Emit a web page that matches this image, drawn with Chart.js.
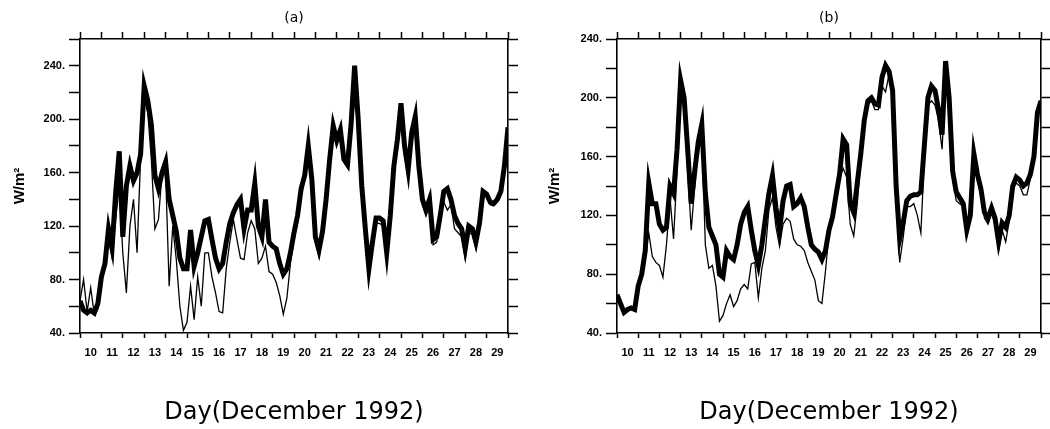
<!DOCTYPE html>
<html>
<head>
<meta charset="utf-8">
<title>Day(December 1992)</title>
<script src="https://cdn.jsdelivr.net/npm/chart.js@4/dist/chart.umd.min.js"></script>
<style>
  html, body { margin: 0; padding: 0; background: #fff; }
  #wrap { position: relative; width: 1050px; height: 429px; }
  canvas { position: absolute; top: 0; }
  #panelA { left: 0; }
  #panelB { left: 525px; }
</style>
</head>
<body>
<div id="wrap">
  <canvas id="panelA" width="525" height="429"></canvas>
  <canvas id="panelB" width="525" height="429"></canvas>
</div>
<script>
// Flux time series, W/m2, 6 samples per day starting 10 Dec 00h
const firstDay = 10;
const samplesPerDay = 6;
const dayLabels = ['10', '11', '12', '13', '14', '15', '16', '17', '18', '19',
                   '20', '21', '22', '23', '24', '25', '26', '27', '28', '29'];
const fluxTicks = [40, 80, 120, 160, 200, 240];

// panel (a)
const fluxA_bold = [
  64, 57, 55, 57, 55, 62,
  82, 92, 118, 104, 145, 176,
  112, 150, 165, 154, 160, 174,
  225, 214, 196, 158, 148, 160,
  168, 140, 128, 116, 96, 88,
  88, 117, 90, 100, 112, 124,
  125, 110, 96, 88, 92, 108,
  122, 130, 136, 140, 118, 132,
  132, 152, 120, 112, 140, 108,
  105, 103, 92, 84, 88, 100,
  115, 128, 148, 158, 180, 155,
  112, 102, 116, 140, 170, 195,
  184, 192, 170, 166, 196, 240,
  200, 150, 118, 88, 108, 126,
  126, 124, 100, 128, 165, 185,
  212, 180, 162, 190, 202, 165,
  140, 132, 140, 110, 112, 128,
  146, 148, 140, 128, 122, 118,
  103, 120, 118, 108, 122, 146,
  144, 138, 137, 140, 146, 165,
  194
];
const fluxA_fine = [
  64, 80, 56, 74, 54, 58,
  82, 88, 110, 96, 125, 150,
  100, 70, 120, 140, 100, 172,
  215, 205, 170, 118, 125, 160,
  160, 75, 120, 95, 60, 42,
  48, 75, 50, 82, 60, 100,
  100, 82, 70, 56, 55, 88,
  108, 125, 110, 96, 95, 115,
  124, 118, 92, 96, 105, 86,
  84, 78, 68, 54, 66, 92,
  110, 122, 142, 155, 172, 150,
  108, 97, 112, 138, 165, 188,
  182, 188, 168, 164, 190, 215,
  196, 146, 112, 83, 102, 122,
  122, 120, 97, 124, 160, 180,
  200, 172, 160, 182, 195, 160,
  136, 128, 136, 106, 108, 124,
  138, 132, 136, 118, 115, 112,
  96, 115, 114, 103, 118, 142,
  142, 136, 135, 138, 143, 160,
  192
];

// panel (b)
const fluxB_bold = [
  66, 60, 54, 56, 57, 56,
  72, 80, 96, 142, 128, 128,
  114, 110, 112, 140, 135, 165,
  212, 200, 165, 128, 150, 170,
  182, 135, 112, 106, 100, 80,
  78, 96, 92, 90, 100, 114,
  122, 126, 110, 96, 86, 100,
  118, 135, 147, 125, 110, 130,
  140, 141, 126, 128, 132, 126,
  112, 100, 97, 95, 90, 96,
  110, 119, 134, 148, 172, 168,
  128, 122, 142, 162, 185, 198,
  200, 196, 195, 214, 222, 218,
  205, 140, 104, 115, 130, 133,
  134, 134, 136, 168, 200, 208,
  205, 192, 175, 225, 200, 150,
  136, 132, 128, 110, 120, 162,
  148, 138, 122, 118, 125, 118,
  102, 115, 112, 120, 140, 146,
  144, 140, 142, 148, 160, 190,
  198
];
const fluxB_fine = [
  65, 59, 54, 56, 56, 55,
  72, 80, 92, 108, 92, 88,
  86, 78, 100, 132, 104, 150,
  206, 192, 150, 110, 140, 166,
  176, 100, 84, 86, 72, 48,
  52, 60, 66, 58, 62, 70,
  73, 70, 87, 88, 64, 84,
  96, 124, 132, 112, 99, 114,
  118, 116, 104, 100, 99, 96,
  88, 82, 76, 62, 60, 82,
  108, 116, 130, 145, 152, 146,
  114, 106, 128, 158, 180, 195,
  198, 192, 192, 208, 204, 216,
  200, 132, 88, 105, 126, 126,
  128, 120, 108, 160, 195, 198,
  195, 185, 165, 212, 195, 145,
  130, 128, 126, 106, 116, 158,
  144, 134, 118, 114, 122, 114,
  96, 110, 102, 116, 138, 142,
  140, 134, 134, 145, 158, 186,
  196
];

const lastDay = firstDay + dayLabels.length;
const tickFont = { family: 'Liberation Sans', size: 11, weight: 'bold' };
const frame = { display: true, color: '#000', width: 1.6 };

function toPoints(values) {
  return values.map((v, i) => ({ x: firstDay + i / samplesPerDay, y: v }));
}

// day boundaries get tick marks, day centres get the labels
function dayTicks(axis) {
  const ticks = [];
  for (let i = 0; i <= dayLabels.length; i++) {
    ticks.push({ value: firstDay + i });
    if (i < dayLabels.length) ticks.push({ value: firstDay + i + 0.5 });
  }
  axis.ticks = ticks;
}

function makePanel(id, letter, bold, fine, yMax, box) {
  new Chart(document.getElementById(id), {
    type: 'line',
    data: {
      datasets: [
        { data: toPoints(bold), borderColor: '#000', borderWidth: 5, pointRadius: 0, tension: 0 },
        { data: toPoints(fine), borderColor: '#000', borderWidth: 1.3, pointRadius: 0, tension: 0 }
      ]
    },
    options: {
      responsive: false,
      animation: false,
      devicePixelRatio: 1,
      layout: { padding: 0 },
      plugins: { legend: { display: false }, tooltip: { enabled: false } },
      scales: {
        x: {
          type: 'linear', position: 'bottom', min: firstDay, max: lastDay,
          afterBuildTicks: dayTicks,
          ticks: {
            autoSkip: false, maxRotation: 0, padding: 8, color: '#000', font: tickFont,
            callback: v => Number.isInteger(v) ? '' : dayLabels[Math.floor(v) - firstDay]
          },
          grid: {
            drawOnChartArea: false, tickLength: 5, tickWidth: 1.5,
            tickColor: ctx => Number.isInteger(ctx.tick.value) ? '#000' : 'rgba(0,0,0,0)'
          },
          border: frame,
          title: {
            display: true, text: 'Day(December 1992)', color: '#000',
            font: { family: 'DejaVu Sans', size: 24 }, padding: { top: 0, bottom: 2 }
          },
          afterFit: s => { s.height = box.bottom; }
        },
        xTop: {
          type: 'linear', position: 'top', min: firstDay, max: lastDay,
          ticks: { display: false, stepSize: 1 },
          grid: { drawOnChartArea: false, tickLength: 7, tickWidth: 1.5, tickColor: '#000' },
          border: frame,
          title: {
            display: true, text: letter, color: '#000',
            font: { family: 'DejaVu Sans', size: 14 }, padding: { top: 10, bottom: 0 }
          },
          afterFit: s => { s.height = box.top; }
        },
        y: {
          type: 'linear', position: 'left', min: 40, max: yMax,
          ticks: {
            stepSize: 20, padding: 4, color: '#000', font: tickFont,
            callback: v => fluxTicks.includes(v) ? v + '.' : ''
          },
          grid: { drawOnChartArea: false, tickLength: 11, tickWidth: 1.5, tickColor: '#000' },
          border: frame,
          title: {
            display: true, text: 'W/m²', color: '#000',
            font: { family: 'Liberation Sans', size: 15, weight: 'bold' },
            padding: { top: box.titlePad, bottom: 0 }
          },
          afterFit: s => { s.width = box.left; }
        },
        yRight: {
          type: 'linear', position: 'right', min: 40, max: yMax,
          ticks: { display: false, stepSize: 20 },
          grid: { drawOnChartArea: false, tickLength: 10, tickWidth: 1.5, tickColor: '#000' },
          border: frame,
          afterFit: s => { s.width = box.right; }
        }
      }
    }
  });
}

makePanel('panelA', '(a)', fluxA_bold, fluxA_fine, 260,
  { left: 80, right: 17, top: 39, bottom: 96, titlePad: 11 });
makePanel('panelB', '(b)', fluxB_bold, fluxB_fine, 240,
  { left: 92, right: 9, top: 39, bottom: 96, titlePad: 21 });
</script>
</body>
</html>
